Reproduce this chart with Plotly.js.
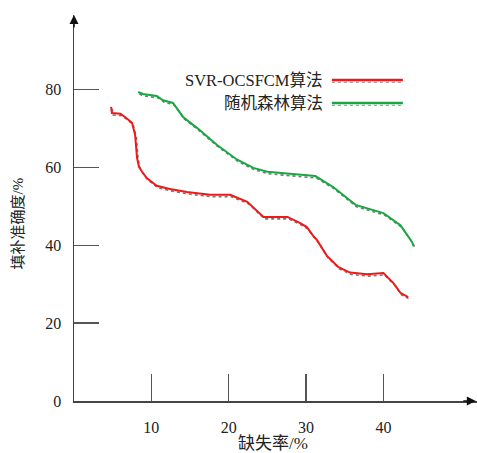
<!DOCTYPE html>
<html>
<head>
<meta charset="utf-8">
<script src="https://cdn.plot.ly/plotly-3.0.1.min.js"></script>
<style>html,body{margin:0;padding:0;background:#fff;}#chart{width:477px;height:453px;}</style>
</head>
<body>
<div id="chart"></div>
<script>
const seriesNames = ["SVR-OCSFCM算法", "随机森林算法"];
const redX = [4.8, 4.9, 6.0, 6.6, 7.5, 7.9, 8.15, 8.4, 8.8, 9.4, 10.7, 12.4, 14.6, 17.6, 20.2, 22.4, 24.5, 27.6, 29.2, 30.1, 30.9, 31.4, 32.7, 34.2, 35.7, 37.9, 40.0, 41.3, 42.2, 43.2];
const redY = [75.6, 74.0, 73.8, 73.0, 71.5, 68.4, 62.5, 60.2, 58.9, 57.3, 55.3, 54.5, 53.7, 53.0, 53.0, 51.2, 47.3, 47.3, 45.8, 44.7, 42.5, 41.4, 37.3, 34.4, 33.0, 32.6, 32.9, 30.3, 27.8, 26.7];
const greenX = [8.3, 8.9, 10.7, 11.5, 12.8, 14.1, 15.9, 18.5, 21.1, 23.2, 25.0, 27.0, 29.2, 31.2, 33.5, 36.4, 40.0, 42.2, 43.7, 43.9];
const greenY = [79.4, 78.9, 78.4, 77.3, 76.6, 73.0, 70.2, 65.8, 62.0, 59.9, 58.9, 58.5, 58.1, 57.8, 55.0, 50.4, 48.3, 45.2, 40.9, 39.8];
const xTicks = [10, 20, 30, 40];
const yTicks = [0, 20, 40, 60, 80];
const xTitle = "缺失率/%";
const yTitle = "填补准确度/%";

const colors = ["#f01818", "#17a843"];
const shadow = (arr, d) => arr.map(v => v + d);

const traces = [
  {x: shadow(redX, 0.15), y: shadow(redY, -0.5), mode: "lines", line: {color: "#777", width: 1.6, dash: "dot"}, showlegend: false, hoverinfo: "skip"},
  {x: shadow(greenX, 0.15), y: shadow(greenY, -0.5), mode: "lines", line: {color: "#777", width: 1.6, dash: "dot"}, showlegend: false, hoverinfo: "skip"},
  {x: redX, y: redY, name: seriesNames[0], mode: "lines", line: {color: colors[0], width: 2}, showlegend: false},
  {x: greenX, y: greenY, name: seriesNames[1], mode: "lines", line: {color: colors[1], width: 2}, showlegend: false}
];

const tickFont = {family: "Liberation Serif, Times New Roman, serif", size: 16, color: "#222"};
const legFont = {family: "Liberation Serif, Noto Sans CJK SC, serif", size: 16.5, color: "#222"};
const yTitleFont = {family: "Liberation Serif, Noto Sans CJK SC, serif", size: 15, color: "#222"};
const xTitleFont = {family: "Liberation Serif, Noto Sans CJK SC, serif", size: 17, color: "#222"};

const legY = [0.8316, 0.772];
const layout = {
  width: 477, height: 453,
  margin: {l: 74, r: 0, t: 15, b: 52},
  paper_bgcolor: "#fff", plot_bgcolor: "#fff",
  showlegend: false,
  xaxis: {
    range: [0, 52.1], tickvals: xTicks, ticktext: xTicks.map(String),
    ticks: "inside", ticklen: 27, tickwidth: 1.5, tickcolor: "#555",
    showline: true, linecolor: "#444", linewidth: 1.5, showgrid: false, zeroline: false,
    tickfont: tickFont, ticklabelstandoff: 11, fixedrange: true
  },
  yaxis: {
    range: [0, 99.2], tickvals: yTicks, ticktext: yTicks.map(String),
    ticks: "inside", ticklen: 25, tickwidth: 1.5, tickcolor: "#555",
    showline: true, linecolor: "#444", linewidth: 1.5, showgrid: false, zeroline: false,
    tickfont: tickFont, ticklabelstandoff: 8, fixedrange: true
  },
  shapes: [
    {type: "line", xref: "paper", yref: "paper", x0: 0.640, x1: 0.816, y0: legY[0], y1: legY[0], line: {color: colors[0], width: 2.5}},
    {type: "line", xref: "paper", yref: "paper", x0: 0.640, x1: 0.816, y0: legY[0] - 0.006, y1: legY[0] - 0.006, line: {color: "#888", width: 1, dash: "dot"}},
    {type: "line", xref: "paper", yref: "paper", x0: 0.640, x1: 0.816, y0: legY[1], y1: legY[1], line: {color: colors[1], width: 2.5}},
    {type: "line", xref: "paper", yref: "paper", x0: 0.640, x1: 0.816, y0: legY[1] - 0.006, y1: legY[1] - 0.006, line: {color: "#888", width: 1, dash: "dot"}}
  ],
  annotations: [
    {xref: "paper", yref: "paper", x: 0.623, y: legY[0], xanchor: "right", yanchor: "middle", text: seriesNames[0], showarrow: false, font: legFont},
    {xref: "paper", yref: "paper", x: 0.623, y: legY[1], xanchor: "right", yanchor: "middle", text: seriesNames[1], showarrow: false, font: legFont},
    {xref: "paper", yref: "paper", x: 0.494, y: -0.109, xanchor: "center", yanchor: "middle", text: xTitle, showarrow: false, font: xTitleFont},
    {xref: "paper", yref: "paper", x: -0.139, y: 0.46, xanchor: "center", yanchor: "middle", text: yTitle, textangle: -90, showarrow: false, font: yTitleFont},
    {xref: "paper", yref: "paper", x: 0, y: 1, showarrow: true, ax: 0, ay: 14, arrowhead: 2, arrowsize: 1.2, arrowwidth: 1.5, arrowcolor: "#111", text: ""},
    {xref: "paper", yref: "paper", x: 0.997, y: 0, showarrow: true, ax: -14, ay: 0, arrowhead: 2, arrowsize: 1.2, arrowwidth: 1.5, arrowcolor: "#111", text: ""}
  ]
};

Plotly.newPlot("chart", traces, layout, {displayModeBar: false, staticPlot: true});
</script>
</body>
</html>
